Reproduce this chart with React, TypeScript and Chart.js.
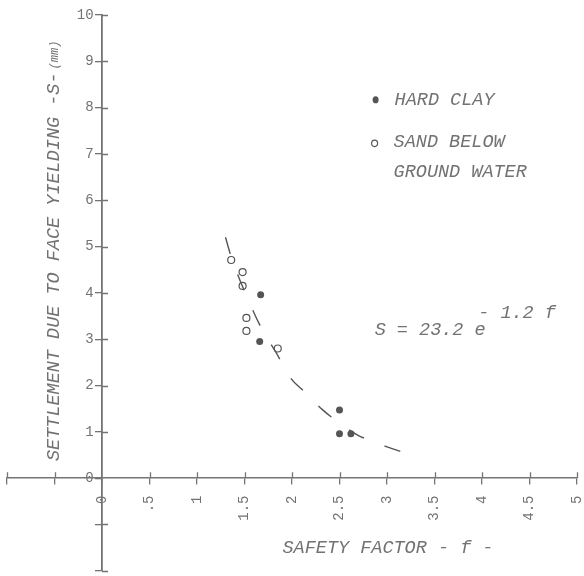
import React, { useEffect, useRef } from 'react';
import { Chart, registerables } from 'chart.js';

Chart.register(...registerables);

// ---- data ----
const hardClayF = [1.67, 1.66, 2.5, 2.5, 2.62];
const hardClayS = [3.96, 2.95, 1.47, 0.96, 0.96];

const sandF = [1.36, 1.48, 1.48, 1.52, 1.52, 1.85];
const sandS = [4.71, 4.45, 4.15, 3.46, 3.18, 2.8];

// fitted curve S = 23.2 e^(-1.2 f)
const fitF = [1.3, 1.36, 1.58, 1.67, 1.83, 1.99, 2.13, 2.32, 2.46, 2.7, 2.82, 2.98, 3.14];
const fitS = [5.2, 4.78, 3.66, 3.27, 2.72, 2.15, 1.87, 1.48, 1.25, 0.92, 0.82, 0.69, 0.58];

const xTickValues = [-1, -0.5, 0, 0.5, 1, 1.5, 2, 2.5, 3, 3.5, 4, 4.5, 5];
const xTickLabels = ['', '', '0', '.5', '1', '1.5', '2', '2.5', '3', '3.5', '4', '4.5', '5'];
const yTickValues = [-2, -1, 0, 1, 2, 3, 4, 5, 6, 7, 8, 9, 10];
const yTickLabels = ['', '', '0', '1', '2', '3', '4', '5', '6', '7', '8', '9', '10'];

const legendHardClay = 'HARD CLAY';
const legendSand = ['SAND BELOW', 'GROUND WATER'];
const equationMain = 'S = 23.2 e';
const equationExp = '- 1.2 f';
const xTitle = 'SAFETY FACTOR - f -';
const yTitle = 'SETTLEMENT DUE TO FACE YIELDING -S-';
const yUnit = '(mm)';

const INK = '#727272';
const AXIS = '#747474';
const DOT = '#555555';
const MONO = '"Liberation Mono", "DejaVu Sans Mono", monospace';

const textPlugin = {
  id: 'plotterText',
  afterDraw(chart: any) {
    const ctx = chart.ctx as CanvasRenderingContext2D;
    const xs = chart.scales.x;
    const ys = chart.scales.y;
    const x0 = xs.getPixelForValue(0);
    const y0 = ys.getPixelForValue(0);
    ctx.save();
    // inner half of the cross ticks
    ctx.strokeStyle = AXIS;
    ctx.lineWidth = 1.3;
    ctx.beginPath();
    xs.ticks.forEach((t: any) => {
      if (t.value === 0) return;
      const px = Math.round(xs.getPixelForValue(t.value)) + 0.5;
      ctx.moveTo(px, y0 - 6);
      ctx.lineTo(px, y0);
    });
    ys.ticks.forEach((t: any) => {
      if (t.value === 0) return;
      const py = Math.round(ys.getPixelForValue(t.value)) + 0.5;
      ctx.moveTo(x0, py);
      ctx.lineTo(x0 + 6, py);
    });
    ctx.stroke();

    ctx.fillStyle = INK;
    ctx.textBaseline = 'middle';
    ctx.textAlign = 'left';
    ctx.font = `italic 18.5px ${MONO}`;

    // legend
    const lx = xs.getPixelForValue(2.88);
    const ly1 = ys.getPixelForValue(8.17);
    const ly2 = ys.getPixelForValue(7.25);
    const ly3 = ys.getPixelForValue(6.6);
    ctx.fillStyle = DOT;
    ctx.beginPath();
    ctx.ellipse(lx, ly1, 3, 3.6, 0, 0, Math.PI * 2);
    ctx.fill();
    ctx.strokeStyle = DOT;
    ctx.lineWidth = 1.2;
    ctx.beginPath();
    ctx.ellipse(lx - 1, ly2 + 1, 3, 3.2, 0, 0, Math.PI * 2);
    ctx.stroke();
    ctx.fillStyle = INK;
    ctx.fillText(legendHardClay, lx + 19, ly1);
    ctx.fillText(legendSand[0], lx + 18, ly2);
    ctx.fillText(legendSand[1], lx + 18, ly3);

    // equation
    ctx.fillText(equationMain, xs.getPixelForValue(2.87), ys.getPixelForValue(3.2));
    ctx.fillText(equationExp, xs.getPixelForValue(3.96), ys.getPixelForValue(3.56));

    // x title
    ctx.fillText(xTitle, xs.getPixelForValue(1.9), ys.getPixelForValue(-1.5));

    // y title
    ctx.translate(xs.getPixelForValue(-0.5), ys.getPixelForValue(0.37));
    ctx.rotate(-Math.PI / 2);
    ctx.fillText(yTitle, 0, 0);
    const w = ctx.measureText(yTitle).width;
    ctx.font = `italic 12px ${MONO}`;
    ctx.fillText(yUnit, w + 3, 0);
    ctx.restore();
  },
};

export default function App() {
  const ref = useRef<HTMLCanvasElement>(null);
  useEffect(() => {
    if (!ref.current) return;
    const chart = new Chart(ref.current, {
      type: 'scatter',
      data: {
        datasets: [
          {
            label: 'fit',
            data: fitF.map((f, i) => ({ x: f, y: fitS[i] })),
            showLine: true,
            borderColor: '#555',
            borderWidth: 1.4,
            borderDash: [17, 22],
            pointRadius: 0,
            cubicInterpolationMode: 'monotone',
            fill: false,
          },
          {
            label: legendHardClay,
            data: hardClayF.map((f, i) => ({ x: f, y: hardClayS[i] })),
            pointStyle: 'circle',
            pointRadius: 3.5,
            backgroundColor: DOT,
            borderColor: DOT,
            borderWidth: 0,
          },
          {
            label: legendSand.join(' '),
            data: sandF.map((f, i) => ({ x: f, y: sandS[i] })),
            pointStyle: 'circle',
            pointRadius: 3.5,
            backgroundColor: 'rgba(0,0,0,0)',
            borderColor: DOT,
            borderWidth: 1.2,
          },
        ],
      },
      options: {
        animation: false,
        responsive: false,
        events: [],
        layout: { padding: { left: 7, right: 7, top: 15, bottom: 3 } },
        plugins: { legend: { display: false }, tooltip: { enabled: false } },
        scales: {
          x: {
            type: 'linear',
            position: { y: 0 } as any,
            min: -1,
            max: 5,
            afterBuildTicks: (s: any) => {
              s.ticks = xTickValues.map((v) => ({ value: v }));
            },
            afterFit: (s: any) => {
              s.paddingLeft = 0;
              s.paddingRight = 0;
            },
            ticks: {
              autoSkip: false,
              minRotation: 90,
              maxRotation: 90,
              padding: 3,
              color: INK,
              font: { family: MONO, size: 14 },
              callback: (v: any) => {
                const i = xTickValues.indexOf(Number(v));
                return i >= 0 && xTickLabels[i] ? xTickLabels[i] + ' ' : '';
              },
            },
            grid: { drawOnChartArea: false, drawTicks: true, tickLength: 6, color: AXIS, lineWidth: 1.3 },
            border: { display: true, color: AXIS, width: 1.5 },
          },
          y: {
            type: 'linear',
            position: { x: 0 } as any,
            min: -2,
            max: 10,
            afterBuildTicks: (s: any) => {
              s.ticks = yTickValues.map((v) => ({ value: v }));
            },
            afterFit: (s: any) => {
              s.paddingTop = 0;
              s.paddingBottom = 0;
            },
            ticks: {
              autoSkip: false,
              padding: 4,
              color: INK,
              font: { family: MONO, size: 14 },
              callback: (v: any) => {
                const i = yTickValues.indexOf(Number(v));
                return i >= 0 && yTickLabels[i] ? yTickLabels[i] + ' ' : '';
              },
            },
            grid: { drawOnChartArea: false, drawTicks: true, tickLength: 6, color: AXIS, lineWidth: 1.3 },
            border: { display: true, color: AXIS, width: 1.8 },
          },
        },
      },
      plugins: [textPlugin],
    } as any);
    return () => chart.destroy();
  }, []);
  return (
    <div style={{ position: 'fixed', left: 0, top: 0, width: 584, height: 576, background: '#fff' }}>
      <canvas ref={ref} width={584} height={576} style={{ display: 'block' }} />
    </div>
  );
}
